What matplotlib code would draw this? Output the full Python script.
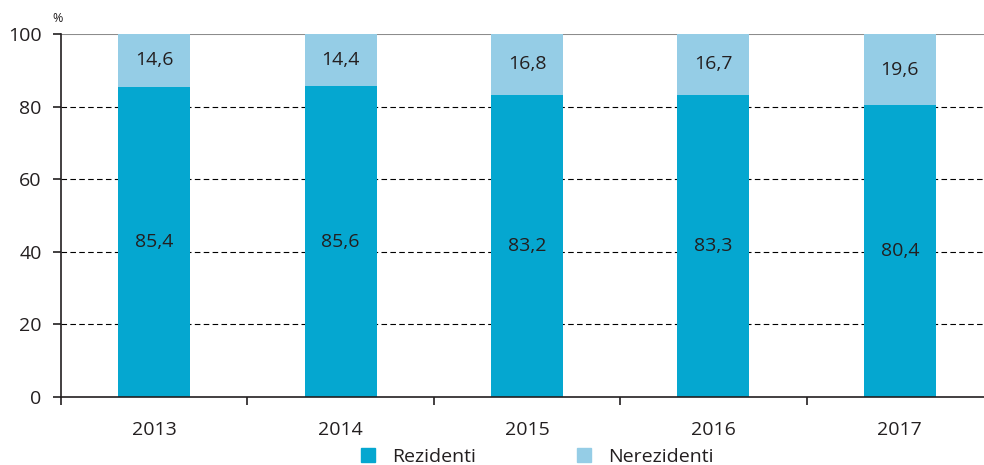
import matplotlib.pyplot as plt
from matplotlib.patches import Patch

plt.rcParams['font.family'] = ['Open Sans', 'DejaVu Sans']

years = ['2013', '2014', '2015', '2016', '2017']
rezidenti = [85.4, 85.6, 83.2, 83.3, 80.4]
nerezidenti = [14.6, 14.4, 16.8, 16.7, 19.6]

dark = '#05a7d0'
light = '#95cde6'
text_col = '#231f20'
fs = 14

fig = plt.figure(figsize=(9.84, 4.65), dpi=100)
ax = fig.add_axes([61 / 984, 1 - 397 / 465, (993 - 61) / 984, (397 - 34) / 465])

x = list(range(len(years)))
ax.bar(x, rezidenti, width=0.386, color=dark, zorder=3)
ax.bar(x, nerezidenti, width=0.386, bottom=rezidenti, color=light, zorder=3)

for i in x:
    ax.text(i, rezidenti[i] / 2, f"{rezidenti[i]:.1f}".replace('.', ','),
            ha='center', va='center', fontsize=fs, color=text_col, zorder=4)
    ax.text(i, rezidenti[i] + nerezidenti[i] / 2, f"{nerezidenti[i]:.1f}".replace('.', ','),
            ha='center', va='center', fontsize=fs, color=text_col, zorder=4)

ax.set_xlim(-0.5, 4.5)
ax.set_ylim(0, 100)
ax.set_yticks([0, 20, 40, 60, 80, 100])
for yv in [20, 40, 60, 80]:
    ax.axhline(yv, color='black', lw=0.8, ls=(0, (5, 3)), zorder=1)
ax.axhline(100, color='#8c8c8c', lw=1.5, zorder=2)

ax.set_xticks(x)
ax.set_xticklabels(years)
ax.tick_params(axis='x', length=0, labelsize=fs, colors=text_col, pad=17)
ax.set_xticks([-0.5, 0.5, 1.5, 2.5, 3.5], minor=True)
ax.tick_params(axis='x', which='minor', length=6, width=1.2, color='#231f20')
ax.tick_params(axis='y', length=6, width=1.2, labelsize=fs, colors=text_col, pad=8)
ax.tick_params(axis='y', colors='#231f20')

for s in ['top', 'right']:
    ax.spines[s].set_visible(False)
for s in ['left', 'bottom']:
    ax.spines[s].set_linewidth(1.2)
    ax.spines[s].set_color('#231f20')
    ax.spines[s].set_zorder(5)

fig.text(58 / 984, 1 - 18 / 465, '%', fontsize=9, color=text_col, ha='center', va='center')

handles = [Patch(color=dark, label='Rezidenti'), Patch(color=light, label='Nerezidenti')]
fig.legend(handles=handles, loc='center', bbox_to_anchor=(537 / 984, 1 - 457 / 465), ncol=2,
           frameon=False, fontsize=fs, handlelength=0.75, handleheight=0.75,
           handletextpad=0.85, columnspacing=5.2, labelcolor=text_col)

fig.savefig('out.png', dpi=100)
